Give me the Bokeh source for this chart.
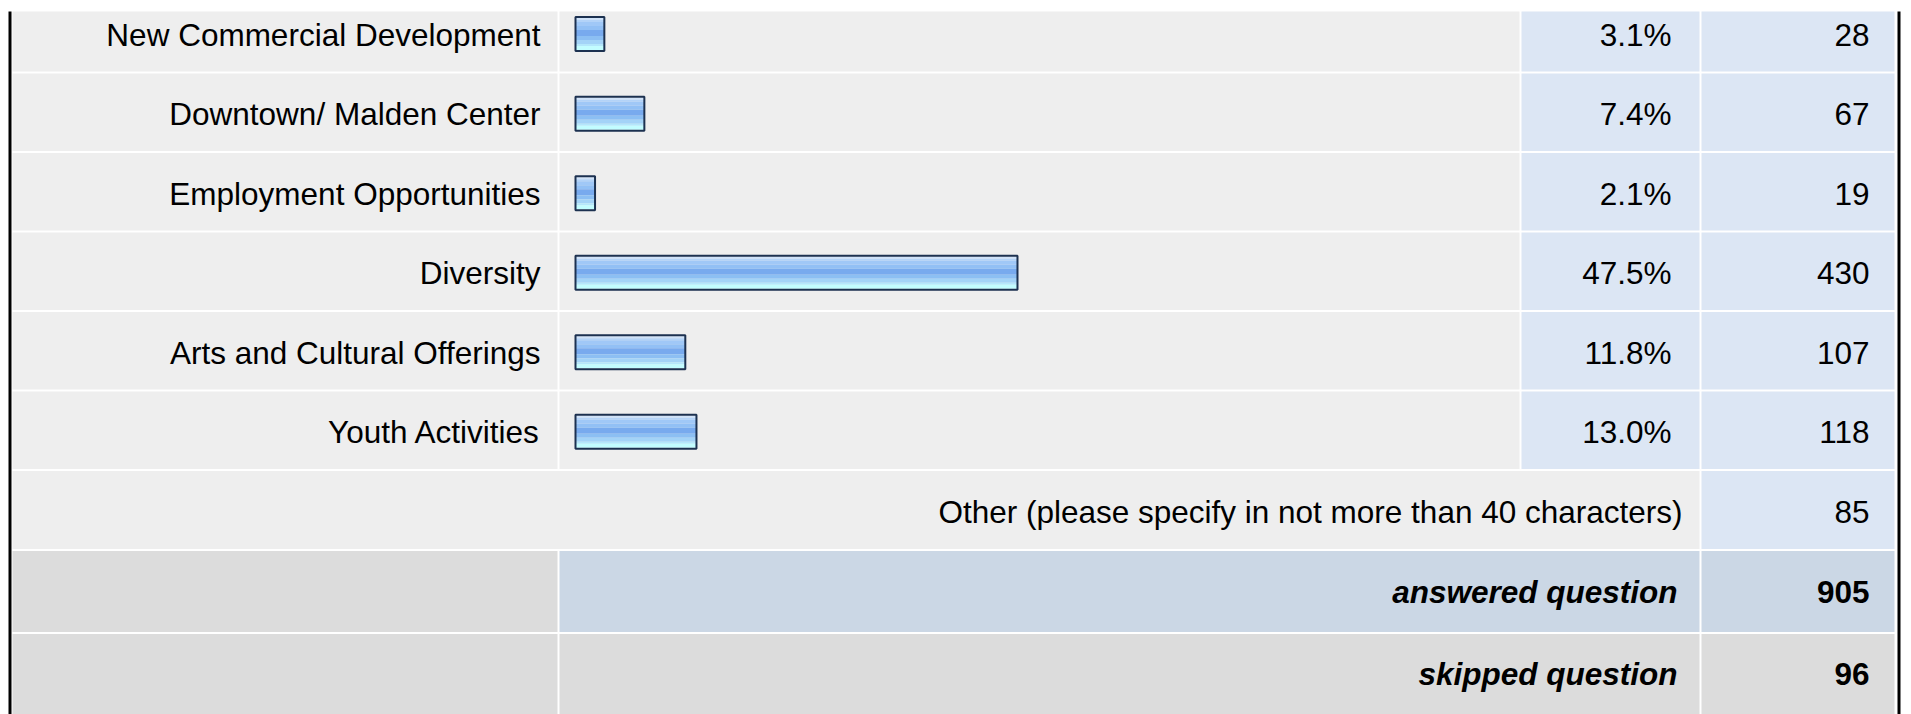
from bokeh.plotting import figure
from bokeh.models import Range1d, ColumnDataSource
from bokeh.core.properties import value
from bokeh.embed import file_html
from bokeh.resources import INLINE

# ---------------- data ----------------
categories = ["New Commercial Development", "Downtown/ Malden Center",
              "Employment Opportunities", "Diversity",
              "Arts and Cultural Offerings", "Youth Activities"]
percents = [3.1, 7.4, 2.1, 47.5, 11.8, 13.0]
counts = [28, 67, 19, 430, 107, 118]
other_label = "Other (please specify in not more than 40 characters)"
other_count = 85
summary_labels = ["answered question", "skipped question"]
summary_counts = [905, 96]

# ---------------- layout (pixel coordinates) ----------------
FIG_W, FIG_H = 1911, 714
FONT = "Liberation Sans"
FS = "31.5px"

row_top = [11, 73, 152.5, 232, 311.5, 391, 470.5, 550.5, 633.5]
row_bot = [71, 150.5, 230, 309.5, 389, 468.5, 548.5, 631.5, 714]
row_mid = [33] + [(t + b) / 2 + 1 for t, b in zip(row_top[1:], row_bot[1:])]
n = len(categories)
text_mid = [m + 1 for m in row_mid[:n + 1]] + \
           [(row_top[k] + row_bot[k]) / 2 for k in (n + 1, n + 2)]

col_label = (12, 557)
col_bar = (559, 1519)
col_pct = (1521, 1699)
col_cnt = (1701, 1894)

BAR_ZERO = 575.0           # pixel where 0 % sits
BAR_PX_PER_PCT = 9.305     # pixels per percent

LIGHT = "#eeeeee"
BLUE = "#dce6f4"
SUM_BLUE = "#cbd7e5"
SUM_GRAY = "#dcdcdc"

p = figure(width=FIG_W, height=FIG_H, output_backend="svg", toolbar_location=None,
           x_range=Range1d(0, FIG_W), y_range=Range1d(FIG_H, 0),
           min_border=0, background_fill_color="white", border_fill_color="white")
p.axis.visible = False
p.grid.visible = False
p.outline_line_color = None

pct_start = (0 - BAR_ZERO) / BAR_PX_PER_PCT
pct_end = (FIG_W - BAR_ZERO) / BAR_PX_PER_PCT
p.extra_x_ranges = {"pct": Range1d(pct_start, pct_end)}

# ---------------- cell backgrounds ----------------
cells = []  # (left, right, top, bottom, color)
for i in range(n):
    t, b = row_top[i], row_bot[i]
    cells.append((col_label[0], col_label[1], t, b, LIGHT))
    cells.append((col_bar[0], col_bar[1], t, b, LIGHT))
    cells.append((col_pct[0], col_pct[1], t, b, BLUE))
    cells.append((col_cnt[0], col_cnt[1], t, b, BLUE))
t, b = row_top[n], row_bot[n]
cells.append((col_label[0], col_pct[1], t, b, LIGHT))
cells.append((col_cnt[0], col_cnt[1], t, b, BLUE))
t, b = row_top[n + 1], row_bot[n + 1]
cells.append((col_label[0], col_label[1], t, b, SUM_GRAY))
cells.append((col_bar[0], col_pct[1], t, b, SUM_BLUE))
cells.append((col_cnt[0], col_cnt[1], t, b, SUM_BLUE))
t, b = row_top[n + 2], row_bot[n + 2] + 6
cells.append((col_label[0], col_label[1], t, b, SUM_GRAY))
cells.append((col_bar[0], col_pct[1], t, b, SUM_GRAY))
cells.append((col_cnt[0], col_cnt[1], t, b, SUM_GRAY))

cell_src = ColumnDataSource(dict(
    left=[c[0] for c in cells], right=[c[1] for c in cells],
    top=[c[2] for c in cells], bottom=[c[3] for c in cells],
    color=[c[4] for c in cells]))
p.quad(left="left", right="right", top="top", bottom="bottom", source=cell_src,
       fill_color="color", line_color=None)

# outer black borders
p.quad(left=[8, 1897], right=[11, 1900], top=[11, 11], bottom=[720, 720],
       fill_color="black", line_color=None)

# ---------------- bars ----------------
bar_centers = [row_mid[i] + 0.5 for i in range(n)]
strips = [(-16, -14, "#cfe2f8"), (-14, -12, "#b3d3f8"), (-12, -8, "#a0c8f7"),
          (-8, -4, "#92c0f5"), (-4, 2, "#78aaee"), (2, 6, "#8cbff3"),
          (6, 10, "#a3d3f7"), (10, 12, "#b4e7fb"), (12, 16, "#c2fdff")]
for o0, o1, col in strips:
    src = ColumnDataSource(dict(left=[0] * n, right=percents,
                                top=[c + o0 for c in bar_centers],
                                bottom=[c + o1 for c in bar_centers]))
    p.quad(left="left", right="right", top="top", bottom="bottom", source=src,
           x_range_name="pct", fill_color=col, line_color=None)
out_src = ColumnDataSource(dict(left=[0] * n, right=percents,
                                top=[c - 17 for c in bar_centers],
                                bottom=[c + 17 for c in bar_centers]))
p.quad(left="left", right="right", top="top", bottom="bottom", source=out_src,
       x_range_name="pct", fill_alpha=0, line_color="#1c3150", line_width=2)

# ---------------- texts ----------------
def txt(xs, ys, texts, style="normal"):
    p.text(x=xs, y=ys, text=texts, text_font=value(FONT), text_font_size=FS,
           text_font_style=style, text_align="right", text_baseline="middle",
           text_color="#000000")

txt([540] * n, text_mid[:n], categories)
txt([1671] * n, text_mid[:n], [f"{v:.1f}%" for v in percents])
txt([1869] * n, text_mid[:n], [str(c) for c in counts])
txt([1682], [text_mid[n]], [other_label])
txt([1869], [text_mid[n]], [str(other_count)])
txt([1677] * 2, text_mid[n + 1:n + 3], summary_labels, "bold italic")
txt([1869] * 2, text_mid[n + 1:n + 3], [str(c) for c in summary_counts], "bold")

open("out.html", "w").write(file_html(p, INLINE))
